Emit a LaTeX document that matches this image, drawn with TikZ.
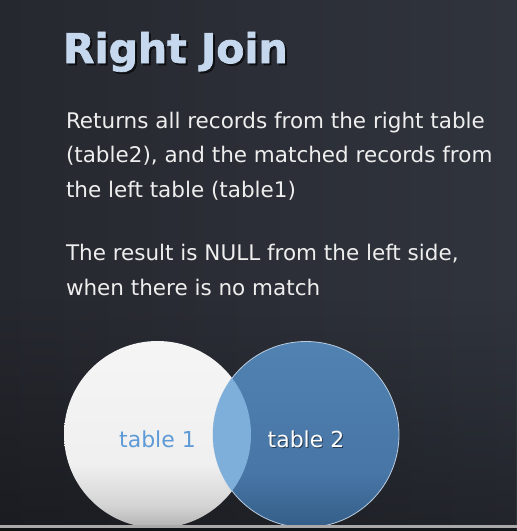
\documentclass[tikz,border=0pt]{standalone}
\usepackage{fontspec}
\setmainfont{DejaVu Sans}
\newfontfamily\headfont[FakeBold=1.6]{DejaVu Sans Bold}
\usetikzlibrary{fadings}

% board and venn colours
\definecolor{boardleft}{HTML}{26282F}
\definecolor{boardright}{HTML}{30343D}
\definecolor{headblue}{HTML}{C5D8EE}
\definecolor{bodytext}{HTML}{EEEEEE}
\definecolor{tabonetext}{HTML}{5E9BD6}
\definecolor{overlapblue}{HTML}{7EAFDB}
\definecolor{rimblue}{HTML}{B9CCE0}
\definecolor{barcolor}{HTML}{A9A9A9}

\pgfdeclareverticalshading{tableoneshade}{100bp}{color(0bp)=(black!30!white);
  color(25bp)=(black!30!white); color(31bp)=(black!17!white);
  color(42bp)=(black!6!white); color(75bp)=(black!4!white); color(100bp)=(black!4!white)}
\pgfdeclareverticalshading{tabletwoshade}{100bp}{color(0bp)=(rgb,255:red,52;green,94;blue,136);
  color(25bp)=(rgb,255:red,52;green,94;blue,136); color(40bp)=(rgb,255:red,72;green,118;blue,166);
  color(75bp)=(rgb,255:red,80;green,130;blue,178); color(100bp)=(rgb,255:red,80;green,130;blue,178)}

\begin{document}
\begin{tikzpicture}[x=1pt,y=-1pt,
        every node/.style={inner sep=0pt,outer sep=0pt},
        heading/.style={font=\fontsize{41}{41}\headfont,anchor=base west},
        body/.style={font=\fontsize{21.5}{34.5}\selectfont,text=bodytext,align=left,anchor=base west},
        venn/.style={circle,minimum size=#1},
        tablabel/.style={font=\fontsize{22}{22}\selectfont}]

    % board
    \useasboundingbox (0,0) rectangle (517,531);
    \clip (0,0) rectangle (517,531);
    \shade[left color=boardleft,right color=boardright] (0,0) rectangle (517,531);
    \fill[black,opacity=.3,path fading=north] (0,300) rectangle (517,531);

    % heading with its shadow
    \node[heading,text=black,opacity=.55] (headshadow) at (65,65) {Right Join};
    \node[heading,text=headblue] (head) at (63,63) {Right Join};

    % base sits on the last line of each block
    \node[body] (returns) at (66,197) {Returns all records from the right table\\
        (table2), and the matched records from\\
        the left table (table1)};
    \node[body] (nullnote) at (66,295) {The result is NULL from the left side,\\
        when there is no match};

    % the two tables
    \node[venn=187pt,shading=tableoneshade] (tab1) at (157.5,434.5) {};
    \node[venn=186pt,shading=tabletwoshade,draw=rimblue,line width=.8pt] (tab2) at (306,434.5) {};
    \begin{scope}
        \clip (tab1.center) circle (93.5);
        \fill[overlapblue] (tab2.center) circle (93);
    \end{scope}

    \node[tablabel,text=tabonetext] (tab1lbl) at ([yshift=-5pt]tab1.center) {table 1};
    \node[tablabel,text=black,opacity=.5] (tab2shadow) at ([xshift=1pt,yshift=-6pt]tab2.center) {table 2};
    \node[tablabel,text=white] (tab2lbl) at ([yshift=-5pt]tab2.center) {table 2};

    % player bar along the foot
    \fill[barcolor] (0,525) rectangle (517,528);
    \fill[black,opacity=.35] (0,528) rectangle (517,531);
\end{tikzpicture}
\end{document}
